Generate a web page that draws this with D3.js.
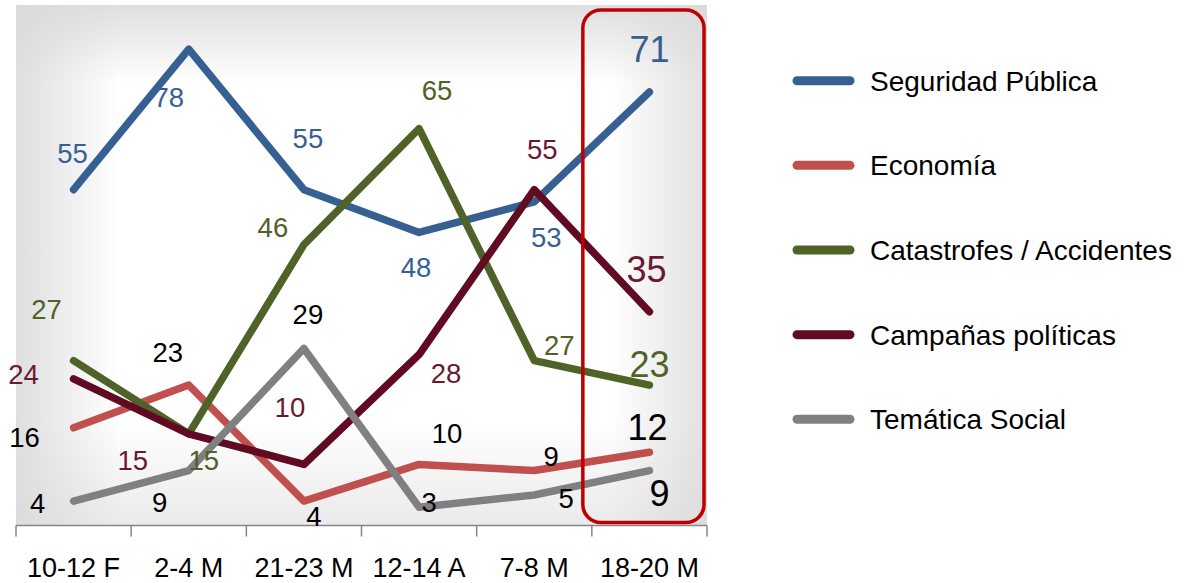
<!DOCTYPE html>
<html>
<head>
<meta charset="utf-8">
<script src="https://cdn.jsdelivr.net/npm/d3@7"></script>
<style>
  html, body { margin: 0; padding: 0; background: #fff; }
  svg { display: block; font-family: "Liberation Sans", Arial, sans-serif; }
</style>
</head>
<body>
<svg id="chart" width="1194" height="583"></svg>
<script>
// ---- data ----
const categories = ["10-12 F", "2-4 M", "21-23 M", "12-14 A", "7-8 M", "18-20 M"];
const seriesNames = ["Seguridad Pública", "Economía", "Catastrofes / Accidentes", "Campañas políticas", "Temática Social"];
const seguridad   = [55, 78, 55, 48, 53, 71];
const economia    = [16, 23, 4, 10, 9, 12];
const catastrofes = [27, 15, 46, 65, 27, 23];
const campanas    = [24, 15, 10, 28, 55, 35];
const tematica    = [4, 9, 29, 3, 5, 9];
const seriesValues = [seguridad, economia, catastrofes, campanas, tematica];

// ---- styles / layout ----
const lineColors  = ["#376092", "#C0504D", "#4F6228", "#600B22", "#808080"];
const labelColors = ["#376092", "#000000", "#4F6228", "#6B1832", "#000000"];
// label offsets [dx, dy] relative to the data point (layout only)
const labelOffsets = [
  [[-1,-27],[-20,58],[4,-42],[-3,45],[12,45],[0,-30]],
  [[-49,19],[-21,-23],[10,25],[28,-21],[17,-5],[-2,-12]],
  [[-27,-42],[15,36],[-31,-8],[18,-29],[25,-6],[0,-8]],
  [[-50,5],[-56,36],[-14,-47],[27,28],[8,-31],[-3,-30]],
  [[-36,12],[-29,41],[4,-24],[10,5],[32,13],[10,35]]
];

const svg = d3.select("#chart");
const plot = {left: 16, right: 707, top: 5, bottom: 525.5};

const x = d3.scaleBand().domain(categories).range([plot.left, plot.right]).padding(0);
const y = d3.scaleLinear().domain([0, 85]).range([plot.bottom, 6.5]);
const cx = c => x(c) + x.bandwidth() / 2;

// ---- background gradient ----
const defs = svg.append("defs");
const gh = defs.append("linearGradient").attr("id", "gh").attr("x1", "0").attr("x2", "1").attr("y1", "0").attr("y2", "0");
[[0, 0.85], [0.15, 0], [0.86, 0], [1, 0.8]].forEach(([o, a]) =>
  gh.append("stop").attr("offset", o).attr("stop-color", "#d9d9d9").attr("stop-opacity", a));
const gv = defs.append("linearGradient").attr("id", "gv").attr("x1", "0").attr("x2", "0").attr("y1", "0").attr("y2", "1");
[[0, 0.85], [0.15, 0], [0.8, 0], [1, 0.55]].forEach(([o, a]) =>
  gv.append("stop").attr("offset", o).attr("stop-color", "#d9d9d9").attr("stop-opacity", a));

const pw = plot.right - plot.left, ph = plot.bottom - plot.top;
svg.append("rect").attr("x", plot.left).attr("y", plot.top).attr("width", pw).attr("height", ph).attr("fill", "#fff");
svg.append("rect").attr("x", plot.left).attr("y", plot.top).attr("width", pw).attr("height", ph).attr("fill", "url(#gh)");
svg.append("rect").attr("x", plot.left).attr("y", plot.top).attr("width", pw).attr("height", ph).attr("fill", "url(#gv)");

// ---- x axis ----
const axisG = svg.append("g");
axisG.append("line").attr("x1", plot.left).attr("x2", plot.right)
  .attr("y1", y(0)).attr("y2", y(0)).attr("stroke", "#868686").attr("stroke-width", 1.5);
const edges = categories.map(c => x(c)).concat([plot.right]);
axisG.selectAll("line.tick").data(edges).join("line").attr("class", "tick")
  .attr("x1", d => d).attr("x2", d => d).attr("y1", y(0)).attr("y2", y(0) + 11)
  .attr("stroke", "#868686").attr("stroke-width", 1.5);
axisG.selectAll("text").data(categories).join("text")
  .attr("x", d => cx(d)).attr("y", 577).attr("text-anchor", "middle")
  .attr("font-size", 27).attr("fill", "#000").text(d => d);

// ---- lines ----
const line = d3.line().x((d, i) => cx(categories[i])).y(d => y(d));
seriesValues.forEach((vals, s) => {
  svg.append("path").datum(vals).attr("d", line)
    .attr("fill", "none").attr("stroke", lineColors[s]).attr("stroke-width", 7.5)
    .attr("stroke-linecap", "round").attr("stroke-linejoin", "round");
});

// ---- data labels ----
seriesValues.forEach((vals, s) => {
  svg.append("g").selectAll("text").data(vals).join("text")
    .attr("x", (d, i) => cx(categories[i]) + labelOffsets[s][i][0])
    .attr("y", (d, i) => y(d) + labelOffsets[s][i][1])
    .attr("text-anchor", "middle")
    .attr("font-size", (d, i) => i === vals.length - 1 ? 36 : 27.5)
    .attr("fill", labelColors[s])
    .text(d => d);
});

// ---- highlight box around last category ----
const last = categories[categories.length - 1];
svg.append("rect")
  .attr("x", x(last) - 9).attr("y", 10)
  .attr("width", x.bandwidth() + 6).attr("height", 512.5)
  .attr("rx", 18).attr("ry", 18)
  .attr("fill", "none").attr("stroke", "#C00000").attr("stroke-width", 3.5);

// ---- legend ----
const legend = svg.append("g");
const legY = d3.scalePoint().domain(seriesNames).range([80.7, 419.3]);
seriesNames.forEach((name, s) => {
  const yy = legY(name);
  legend.append("line").attr("x1", 797).attr("x2", 850).attr("y1", yy).attr("y2", yy)
    .attr("stroke", lineColors[s]).attr("stroke-width", 9).attr("stroke-linecap", "round");
  legend.append("text").attr("x", 870).attr("y", yy + 10).attr("font-size", 28)
    .attr("fill", "#000").text(name);
});
</script>
</body>
</html>
